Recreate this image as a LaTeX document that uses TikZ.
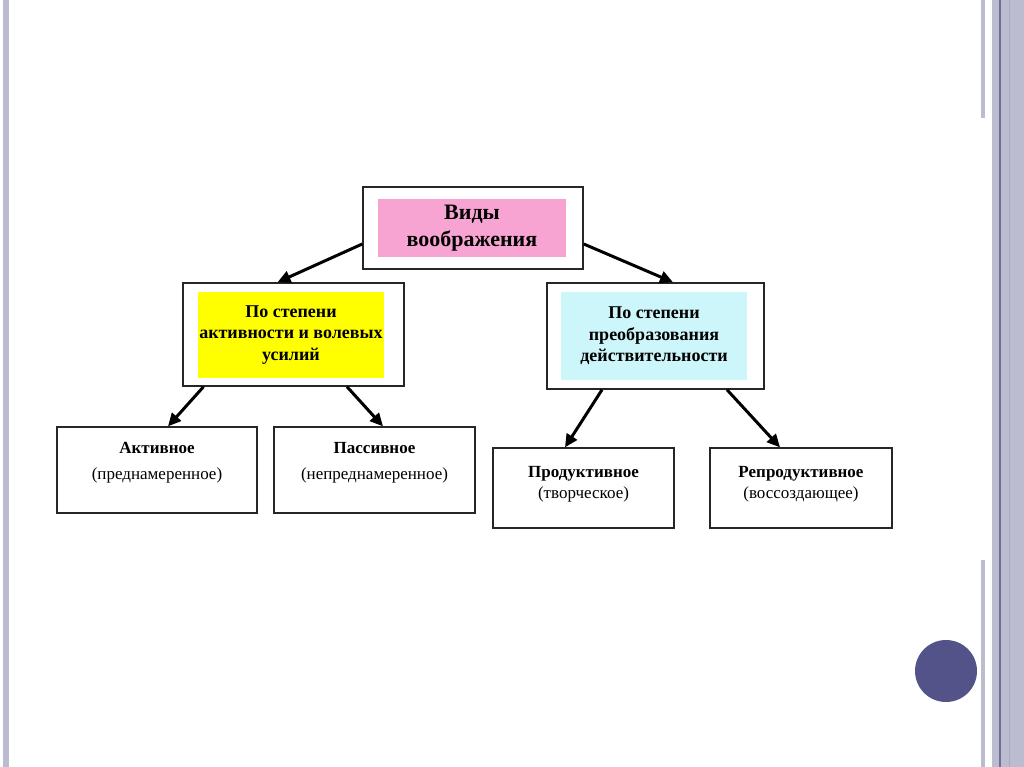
\documentclass[tikz,border=0pt]{standalone}
\usepackage{fontspec}
\setmainfont{Liberation Serif}
\usetikzlibrary{arrows.meta,positioning}

\definecolor{barlav}{HTML}{BCBCD0}
\definecolor{barline}{HTML}{6E6E96}
\definecolor{barlight}{HTML}{A9A9C2}
\definecolor{dotblue}{HTML}{53538A}
\definecolor{pinkfill}{HTML}{F8A4D2}
\definecolor{yellowfill}{HTML}{FFFF00}
\definecolor{cyanfill}{HTML}{CCF6FA}

\tikzset{
  frame/.style={draw=black!85, line width=1.5pt, fill=white, inner sep=0pt},
  inbox/.style={inner sep=0pt, align=center, font=\bfseries},
  leaf/.style={draw=black!85, line width=1.3pt, inner sep=0pt},
  leaftxt/.style={align=center, inner sep=0pt, font=\fontsize{17}{26}\selectfont},
  link/.style={line width=3pt, -{Triangle[length=13pt,width=12pt]}}
}

\begin{document}
\begin{tikzpicture}[x=1pt,y=-1pt]
    \useasboundingbox (0,0) rectangle (1024,767);

    % slide decoration
    \fill[barlav] (3,0) rectangle (9,767);
    \fill[barlav] (981,0) rectangle (985,118);
    \fill[barlav] (981,560) rectangle (985,767);
    \fill[barlav] (992,0) rectangle (1024,767);
    \fill[barline] (999.3,0) rectangle (1000.8,767);
    \fill[barlight] (1008.5,0) rectangle (1010,767);
    \fill[dotblue] (946,671) circle (31);

    % root
    \node[frame, minimum width=220pt, minimum height=82pt] (top) at (473,228) {};
    \node[inbox, fill=pinkfill, minimum width=188pt, minimum height=58pt,
          font=\bfseries\fontsize{22}{27}\selectfont] (toptxt) at (472,228) {Виды\\воображения};

    % second level
    \node[frame, minimum width=221pt, minimum height=103pt] (yel) at (293.5,334.5) {};
    \node[inbox, fill=yellowfill, minimum width=186pt, minimum height=86pt,
          font=\bfseries\fontsize{18}{21.5}\selectfont] (yeltxt) at (291,335)
          {По степени\\активности и волевых\\усилий};

    \node[frame, minimum width=217pt, minimum height=106pt] (cya) at (655.5,336) {};
    \node[inbox, fill=cyanfill, minimum width=186pt, minimum height=88pt,
          font=\bfseries\fontsize{18}{21.5}\selectfont] (cyatxt) at (654,336)
          {По степени\\преобразования\\действительности};

    % leaves
    \node[leaf, minimum width=200pt, minimum height=86pt] (act) at (157,470) {};
    \node[leaftxt] (acttxt) at ([yshift=7pt]act.center) {\textbf{Активное}\\(преднамеренное)};

    \node[leaf, minimum width=201pt, minimum height=86pt] (pas) at (374.5,470) {};
    \node[leaftxt] (pastxt) at ([yshift=7pt]pas.center) {\textbf{Пассивное}\\(непреднамеренное)};

    \node[leaf, minimum width=181pt, minimum height=80pt] (pro) at (583.5,488) {};
    \node[leaftxt, font=\fontsize{17}{21}\selectfont] (protxt) at ([yshift=4pt]pro.center)
          {\textbf{Продуктивное}\\(творческое)};

    \node[leaf, minimum width=182pt, minimum height=80pt] (rep) at (801,488) {};
    \node[leaftxt, font=\fontsize{17}{21}\selectfont] (reptxt) at ([yshift=4pt]rep.center)
          {\textbf{Репродуктивное}\\(воссоздающее)};

    % arrows
    \draw[link] ([yshift=-16pt]top.west) -- ([xshift=-16pt]yel.north);
    \draw[link] ([yshift=-16pt]top.east) -- ([xshift=17.5pt]cya.north);
    \draw[link] ([xshift=-90pt]yel.south) -- ([xshift=11pt]act.north);
    \draw[link] ([xshift=53.5pt]yel.south) -- ([xshift=8.5pt]pas.north);
    \draw[link] ([xshift=-53.5pt]cya.south) -- ([xshift=-18.5pt]pro.north);
    \draw[link] ([xshift=71.5pt]cya.south) -- ([xshift=-21pt]rep.north);
\end{tikzpicture}
\end{document}
